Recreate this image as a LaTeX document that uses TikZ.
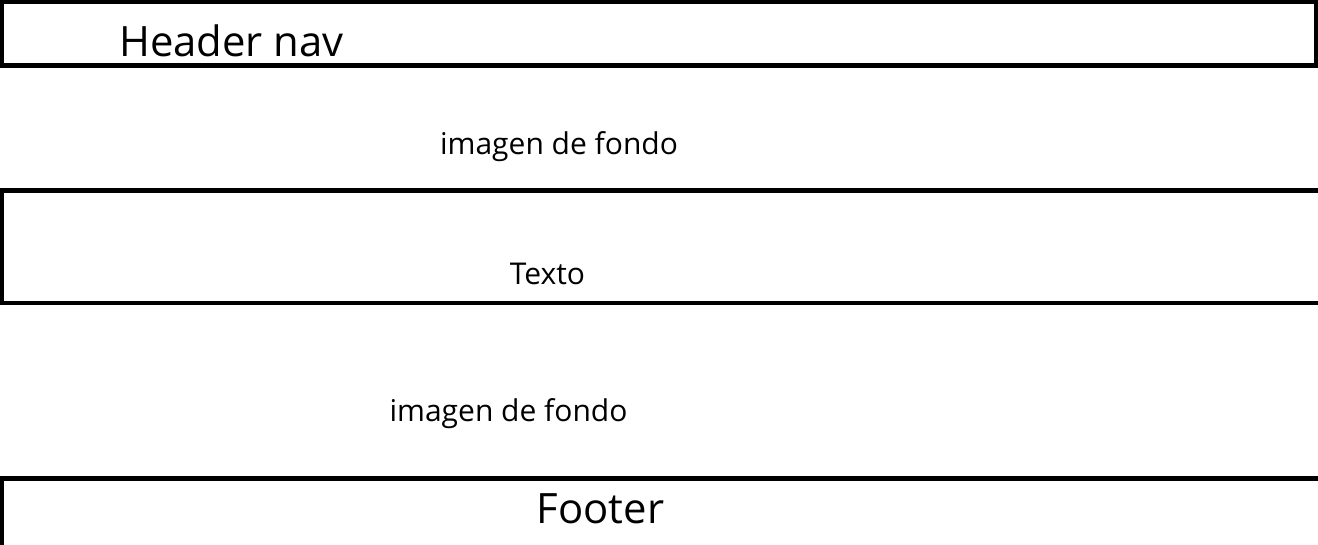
\documentclass[tikz,border=0pt]{standalone}
\usepackage{fontspec}
\setmainfont{Open Sans}
\usepackage{tikz}
\usetikzlibrary{positioning}

\begin{document}
\begin{tikzpicture}[x=1pt, y=-1pt, line width=4.3pt,
  every node/.style={inner sep=0pt, anchor=base},
  big/.style={font=\fontsize{41.8}{50}\selectfont},
  small/.style={font=\fontsize{30}{36}\selectfont}]
\useasboundingbox (0,0) rectangle (1318,545);
\draw (1.5,1.5) rectangle (1316.5,65.5);
\draw (1318,190.5) -- (1.5,190.5) -- (1.5,303) -- (1318,303);
\draw (1318,478.5) -- (1.5,478.5) -- (1.5,547);
\node[big] (header) at (231.5,57) {Header nav};
\node[small] (fondoA) at (559,155) {imagen de fondo};
\node[small] (texto) at (547.5,285) {Texto};
\node[small] (fondoB) at (508.5,421) {imagen de fondo};
\node[big] (footer) at (600.5,523) {Footer};
\end{tikzpicture}
\end{document}
